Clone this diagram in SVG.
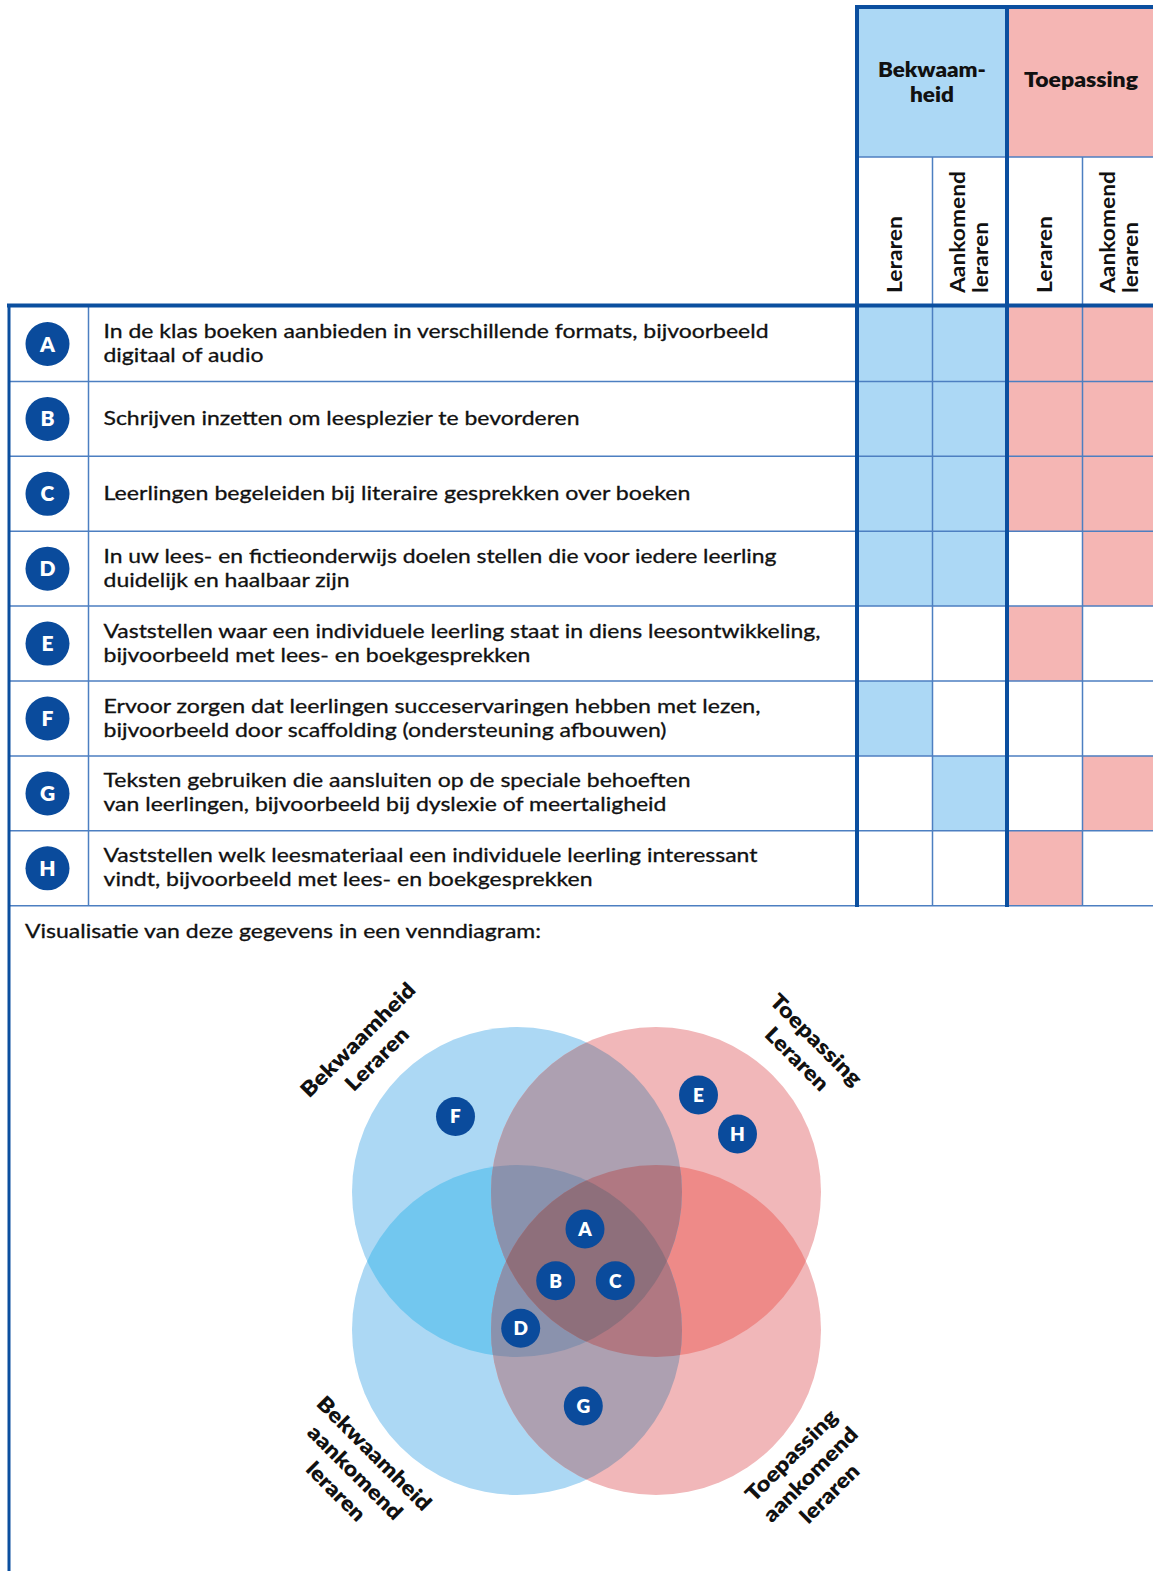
<svg xmlns="http://www.w3.org/2000/svg" width="1153" height="1571" viewBox="0 0 1153 1571">
<style>
text{font-family:Lato,"Liberation Sans",sans-serif;fill:#111;}
.body{font-size:20px;stroke:#111;stroke-width:0.3;}
.b{font-weight:700;font-size:20px;}
.h{font-weight:800;font-size:20px;}
.v{font-weight:800;font-size:21px;}
.badge{fill:#0a4b9c;}
.bl{fill:#fff;font-weight:800;font-size:21px;text-anchor:middle;}
.bv{fill:#fff;font-weight:800;font-size:19px;text-anchor:middle;}
.cb{fill:#acd8f5;}
.cp{fill:#f5b6b4;}
.thin{stroke:#4d7fc1;stroke-width:1.5;fill:none;}
.thick{stroke:#0b4f9f;stroke-width:4;fill:none;}
.mid{text-anchor:middle;}
</style>
<defs>
<clipPath id="cTL"><circle cx="517" cy="1192" r="165"/></clipPath>
<clipPath id="cTR"><circle cx="656" cy="1192" r="165"/></clipPath>
<clipPath id="cBL"><circle cx="517" cy="1330" r="165"/></clipPath>
<clipPath id="cBR"><circle cx="656" cy="1330" r="165"/></clipPath>
</defs>
<rect width="1153" height="1571" fill="#fff"/>

<!-- header -->
<g id="header">
<rect x="857" y="7" width="150" height="150" class="cb"/>
<rect x="1007" y="7" width="146" height="150" class="cp"/>
<text class="h mid" x="932" y="77" textLength="108" lengthAdjust="spacingAndGlyphs">Bekwaam-</text>
<text class="h mid" x="932" y="102" textLength="44" lengthAdjust="spacingAndGlyphs">heid</text>
<text class="h mid" x="1081" y="87" textLength="114" lengthAdjust="spacingAndGlyphs">Toepassing</text>
<text class="b" transform="translate(902,293) rotate(-90)" textLength="77" lengthAdjust="spacingAndGlyphs">Leraren</text>
<text class="b" transform="translate(965,293) rotate(-90)" textLength="122" lengthAdjust="spacingAndGlyphs">Aankomend</text>
<text class="b" transform="translate(988,293) rotate(-90)" textLength="71" lengthAdjust="spacingAndGlyphs">leraren</text>
<text class="b" transform="translate(1052,293) rotate(-90)" textLength="77" lengthAdjust="spacingAndGlyphs">Leraren</text>
<text class="b" transform="translate(1115,293) rotate(-90)" textLength="122" lengthAdjust="spacingAndGlyphs">Aankomend</text>
<text class="b" transform="translate(1138,293) rotate(-90)" textLength="71" lengthAdjust="spacingAndGlyphs">leraren</text>
</g>

<!-- rows -->
<g id="row-A">
<rect x="857" y="306.5" width="75" height="74.9" class="cb"/><rect x="932" y="306.5" width="75" height="74.9" class="cb"/>
<rect x="1007" y="306.5" width="75" height="74.9" class="cp"/><rect x="1082" y="306.5" width="71" height="74.9" class="cp"/>
<circle cx="47.5" cy="344" r="22" class="badge"/><text class="bl" x="47.5" y="351.5">A</text>
<text class="body" x="103.5" y="338" textLength="665" lengthAdjust="spacingAndGlyphs">In de klas boeken aanbieden in verschillende formats, bijvoorbeeld</text>
<text class="body" x="103.5" y="362" textLength="160" lengthAdjust="spacingAndGlyphs">digitaal of audio</text>
</g>
<g id="row-B">
<rect x="857" y="381.4" width="75" height="74.9" class="cb"/><rect x="932" y="381.4" width="75" height="74.9" class="cb"/>
<rect x="1007" y="381.4" width="75" height="74.9" class="cp"/><rect x="1082" y="381.4" width="71" height="74.9" class="cp"/>
<circle cx="47.5" cy="418.9" r="22" class="badge"/><text class="bl" x="47.5" y="426.4">B</text>
<text class="body" x="103.5" y="425" textLength="476" lengthAdjust="spacingAndGlyphs">Schrijven inzetten om leesplezier te bevorderen</text>
</g>
<g id="row-C">
<rect x="857" y="456.3" width="75" height="74.9" class="cb"/><rect x="932" y="456.3" width="75" height="74.9" class="cb"/>
<rect x="1007" y="456.3" width="75" height="74.9" class="cp"/><rect x="1082" y="456.3" width="71" height="74.9" class="cp"/>
<circle cx="47.5" cy="493.8" r="22" class="badge"/><text class="bl" x="47.5" y="501.3">C</text>
<text class="body" x="103.5" y="500" textLength="587" lengthAdjust="spacingAndGlyphs">Leerlingen begeleiden bij literaire gesprekken over boeken</text>
</g>
<g id="row-D">
<rect x="857" y="531.2" width="75" height="74.9" class="cb"/><rect x="932" y="531.2" width="75" height="74.9" class="cb"/>
<rect x="1082" y="531.2" width="71" height="74.9" class="cp"/>
<circle cx="47.5" cy="568.7" r="22" class="badge"/><text class="bl" x="47.5" y="576.2">D</text>
<text class="body" x="103.5" y="563" textLength="673" lengthAdjust="spacingAndGlyphs">In uw lees- en fictieonderwijs doelen stellen die voor iedere leerling</text>
<text class="body" x="103.5" y="587" textLength="246" lengthAdjust="spacingAndGlyphs">duidelijk en haalbaar zijn</text>
</g>
<g id="row-E">
<rect x="1007" y="606.1" width="75" height="74.9" class="cp"/>
<circle cx="47.5" cy="643.6" r="22" class="badge"/><text class="bl" x="47.5" y="651.1">E</text>
<text class="body" x="103.5" y="638" textLength="717" lengthAdjust="spacingAndGlyphs">Vaststellen waar een individuele leerling staat in diens leesontwikkeling,</text>
<text class="body" x="103.5" y="662" textLength="427" lengthAdjust="spacingAndGlyphs">bijvoorbeeld met lees- en boekgesprekken</text>
</g>
<g id="row-F">
<rect x="857" y="681" width="75" height="74.9" class="cb"/>
<circle cx="47.5" cy="718.5" r="22" class="badge"/><text class="bl" x="47.5" y="726">F</text>
<text class="body" x="103.5" y="713" textLength="657" lengthAdjust="spacingAndGlyphs">Ervoor zorgen dat leerlingen succeservaringen hebben met lezen,</text>
<text class="body" x="103.5" y="737" textLength="563" lengthAdjust="spacingAndGlyphs">bijvoorbeeld door scaffolding (ondersteuning afbouwen)</text>
</g>
<g id="row-G">
<rect x="932" y="755.9" width="75" height="74.9" class="cb"/>
<rect x="1082" y="755.9" width="71" height="74.9" class="cp"/>
<circle cx="47.5" cy="793.4" r="22" class="badge"/><text class="bl" x="47.5" y="800.9">G</text>
<text class="body" x="103.5" y="787" textLength="587" lengthAdjust="spacingAndGlyphs">Teksten gebruiken die aansluiten op de speciale behoeften</text>
<text class="body" x="103.5" y="811" textLength="563" lengthAdjust="spacingAndGlyphs">van leerlingen, bijvoorbeeld bij dyslexie of meertaligheid</text>
</g>
<g id="row-H">
<rect x="1007" y="830.8" width="75" height="74.9" class="cp"/>
<circle cx="47.5" cy="868.3" r="22" class="badge"/><text class="bl" x="47.5" y="875.8">H</text>
<text class="body" x="103.5" y="862" textLength="654" lengthAdjust="spacingAndGlyphs">Vaststellen welk leesmateriaal een individuele leerling interessant</text>
<text class="body" x="103.5" y="886" textLength="489" lengthAdjust="spacingAndGlyphs">vindt, bijvoorbeeld met lees- en boekgesprekken</text>
</g>

<!-- grid lines -->
<g id="grid">
<path class="thin" d="M9 381.4H1153M9 456.3H1153M9 531.2H1153M9 606.1H1153M9 681H1153M9 755.9H1153M9 830.8H1153M9 905.7H1153"/>
<path class="thin" d="M88.5 306V905.7M932.5 157V905.7M1082.5 157V905.7M857 157H1153"/>
<path class="thick" d="M857 5V907M1007 5V907M855 7H1153M7 305.5H1153"/>
<path d="M9 304V1571" stroke="#0b4f9f" stroke-width="3"/>
</g>

<text id="caption" class="body" x="25" y="938" textLength="516" lengthAdjust="spacingAndGlyphs">Visualisatie van deze gegevens in een venndiagram:</text>

<!-- venn -->
<g id="venn">
<circle cx="517" cy="1192" r="165" fill="#acd8f4"/>
<circle cx="517" cy="1330" r="165" fill="#acd8f4"/>
<circle cx="656" cy="1192" r="165" fill="#f1b7b9"/>
<circle cx="656" cy="1330" r="165" fill="#f1b7b9"/>
<circle cx="517" cy="1330" r="165" fill="#72c7ef" clip-path="url(#cTL)"/>
<circle cx="656" cy="1330" r="165" fill="#ee8a88" clip-path="url(#cTR)"/>
<circle cx="656" cy="1192" r="165" fill="#ada0b1" clip-path="url(#cTL)"/>
<circle cx="656" cy="1330" r="165" fill="#ada0b1" clip-path="url(#cBL)"/>
<circle cx="656" cy="1330" r="165" fill="#ada0b1" clip-path="url(#cTL)"/>
<circle cx="656" cy="1192" r="165" fill="#ada0b1" clip-path="url(#cBL)"/>
<g clip-path="url(#cTL)"><circle cx="517" cy="1330" r="165" fill="#8a92ad" clip-path="url(#cTR)"/></g>
<g clip-path="url(#cTL)"><circle cx="517" cy="1330" r="165" fill="#8a92ad" clip-path="url(#cBR)"/></g>
<g clip-path="url(#cTR)"><circle cx="656" cy="1330" r="165" fill="#b07882" clip-path="url(#cTL)"/></g>
<g clip-path="url(#cTR)"><circle cx="656" cy="1330" r="165" fill="#b07882" clip-path="url(#cBL)"/></g>
<g clip-path="url(#cTL)"><g clip-path="url(#cTR)"><circle cx="517" cy="1330" r="165" fill="#8e6f7b" clip-path="url(#cBR)"/></g></g>
</g>

<g id="venn-labels">
<g transform="translate(368,1050) rotate(-45)">
<text class="v mid" x="0" y="-7" textLength="152" lengthAdjust="spacingAndGlyphs">Bekwaamheid</text>
<text class="v mid" x="0" y="20" textLength="80" lengthAdjust="spacingAndGlyphs">Leraren</text>
</g>
<g transform="translate(806,1050) rotate(45)">
<text class="v mid" x="0" y="-7" textLength="120" lengthAdjust="spacingAndGlyphs">Toepassing</text>
<text class="v mid" x="0" y="20" textLength="80" lengthAdjust="spacingAndGlyphs">Leraren</text>
</g>
<g transform="translate(354.5,1473) rotate(45)">
<text class="v mid" x="0" y="-20.5" textLength="152" lengthAdjust="spacingAndGlyphs">Bekwaamheid</text>
<text class="v mid" x="0" y="6.5" textLength="124" lengthAdjust="spacingAndGlyphs">aankomend</text>
<text class="v mid" x="0" y="33.5" textLength="74" lengthAdjust="spacingAndGlyphs">leraren</text>
</g>
<g transform="translate(811,1475) rotate(-45)">
<text class="v mid" x="0" y="-20.5" textLength="120" lengthAdjust="spacingAndGlyphs">Toepassing</text>
<text class="v mid" x="0" y="6.5" textLength="124" lengthAdjust="spacingAndGlyphs">aankomend</text>
<text class="v mid" x="0" y="33.5" textLength="74" lengthAdjust="spacingAndGlyphs">leraren</text>
</g>
</g>

<g id="node-F"><circle cx="455.5" cy="1116.5" r="19.5" class="badge"/><text class="bv" x="455.5" y="1123.3">F</text></g>
<g id="node-E"><circle cx="698.5" cy="1095" r="19.5" class="badge"/><text class="bv" x="698.5" y="1101.8">E</text></g>
<g id="node-H"><circle cx="737.5" cy="1134" r="19.5" class="badge"/><text class="bv" x="737.5" y="1140.8">H</text></g>
<g id="node-A"><circle cx="585" cy="1229" r="19.5" class="badge"/><text class="bv" x="585" y="1235.8">A</text></g>
<g id="node-B"><circle cx="555.7" cy="1280.7" r="19.5" class="badge"/><text class="bv" x="555.7" y="1287.5">B</text></g>
<g id="node-C"><circle cx="615.3" cy="1280.7" r="19.5" class="badge"/><text class="bv" x="615.3" y="1287.5">C</text></g>
<g id="node-D"><circle cx="520.7" cy="1328.3" r="19.5" class="badge"/><text class="bv" x="520.7" y="1335.1">D</text></g>
<g id="node-G"><circle cx="583.3" cy="1406" r="19.5" class="badge"/><text class="bv" x="583.3" y="1412.8">G</text></g>
</svg>
